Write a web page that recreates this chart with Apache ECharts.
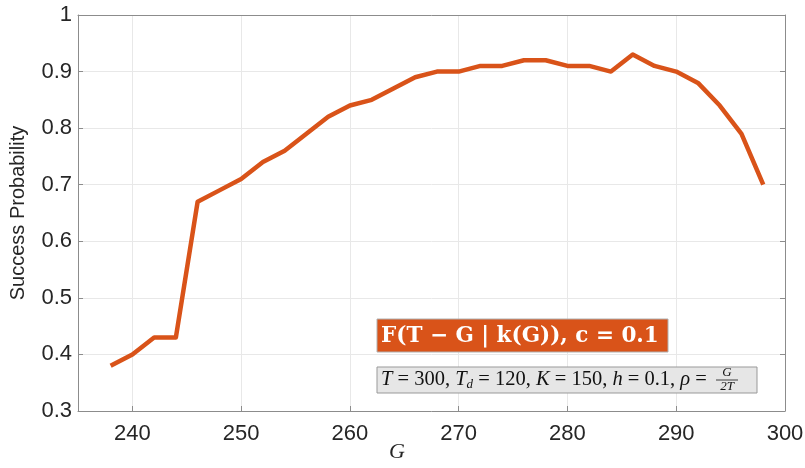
<!DOCTYPE html>
<html><head><meta charset="utf-8">
<script src="https://cdn.jsdelivr.net/npm/echarts@6/dist/echarts.min.js"></script>
<style>html,body{margin:0;padding:0;background:#fff}#c{width:805px;height:468px}</style>
</head><body><div id="c"></div>
<script>
const gValues = [238,240,242,244,246,248,250,252,254,256,258,260,262,264,266,268,270,272,274,276,278,280,282,284,286,288,290,292,294,296,298];
const successProb = [0.38,0.40,0.43,0.43,0.67,0.69,0.71,0.74,0.76,0.79,0.82,0.84,0.85,0.87,0.89,0.90,0.90,0.91,0.91,0.92,0.92,0.91,0.91,0.90,0.93,0.91,0.90,0.88,0.84,0.79,0.70];
const xTicks = [240,250,260,270,280,290,300];
const yTicks = [0.3,0.4,0.5,0.6,0.7,0.8,0.9,1];
const seriesName = 'F(T − G | k(G)), c = 0.1';
const xAxisName = 'G';

const chart = echarts.init(document.getElementById('c'));
const gridLeft = 78, gridTop = 15, gridRight = 805-785, gridBottom = 468-411;
const lineCol = '#8c8c8c';
const labelFont = 'Liberation Sans, Arial, sans-serif';
chart.setOption({
  animation:false,
  grid:{left:gridLeft,top:gridTop,right:gridRight,bottom:gridBottom,show:false,containLabel:false,outerBoundsMode:'none'},
  xAxis:[
    {type:'value',min:235,max:300,splitNumber:7,position:'bottom',
      axisLine:{show:true,lineStyle:{color:lineCol,width:1}},
      axisTick:{show:true,inside:true,length:5,lineStyle:{color:lineCol}},
      axisLabel:{color:'#262626',fontSize:22,fontFamily:labelFont,margin:12,
        formatter:v=>xTicks.includes(v)?String(v):''},
      splitLine:{show:true,lineStyle:{color:'#e8e8e8',width:1}}
    },
    {type:'value',min:235,max:300,splitNumber:7,position:'top',
      axisLine:{show:true,lineStyle:{color:lineCol,width:1}},
      axisTick:{show:false},axisLabel:{show:false},splitLine:{show:false}}
  ],
  yAxis:[
    {type:'value',min:0.3,max:1,interval:0.1,position:'left',
      axisLine:{show:true,lineStyle:{color:lineCol,width:1}},
      axisTick:{show:true,inside:true,length:5,lineStyle:{color:lineCol}},
      axisLabel:{color:'#262626',fontSize:22,fontFamily:labelFont,margin:6,
        formatter:v=>{const r=Math.round(v*10)/10;return r===1?'1':String(r);}},
      splitLine:{show:true,lineStyle:{color:'#e8e8e8',width:1}},
      name:'Success Probability',nameLocation:'middle',nameGap:50,nameRotate:90,
      nameTextStyle:{fontFamily:labelFont,fontSize:20,color:'#262626'}
    },
    {type:'value',min:0.3,max:1,interval:0.1,position:'right',
      axisLine:{show:true,lineStyle:{color:lineCol,width:1}},
      axisTick:{show:true,inside:true,length:5,lineStyle:{color:lineCol}},
      axisLabel:{show:false},splitLine:{show:false}}
  ],
  series:[{
    name:seriesName,type:'line',xAxisIndex:0,yAxisIndex:0,
    data:gValues.map((g,i)=>[g,successProb[i]]),
    showSymbol:false,lineStyle:{color:'#D95319',width:4.5,join:'round'},itemStyle:{color:'#D95319'}
  }],
  graphic:[
    {type:'text',x:397,y:452,style:{text:xAxisName,font:'italic 22px "Liberation Serif", serif',fill:'#262626',align:'center',verticalAlign:'middle'}},
    {type:'rect',z:100,shape:{x:377,y:319,width:291,height:33},style:{fill:'#D95319',stroke:'#b0b0b0',lineWidth:1}},
    {type:'text',z:101,x:381,y:336,style:{text:seriesName,fill:'#fff',font:'bold 21.5px "DejaVu Serif", serif',verticalAlign:'middle'}},
    {type:'rect',z:100,shape:{x:377,y:367,width:380,height:26},style:{fill:'#e6e6e6',stroke:'#999',lineWidth:1}},
    {type:'text',z:101,x:381,y:380,style:{
      text:'{i|T} = 300, {i|T}{s|d} = 120, {i|K} = 150, {i|h} = 0.1, {i|ρ} =',
      rich:{i:{fontStyle:'italic',fontSize:20.5,fontFamily:'Liberation Serif, serif',fill:'#111'},
            s:{fontStyle:'italic',fontSize:13,fontFamily:'Liberation Serif, serif',fill:'#111',padding:[9,0,0,0]}},
      font:'20.5px "Liberation Serif", serif',fill:'#111',verticalAlign:'middle'}},
    {type:'text',z:101,x:727,y:373,style:{text:'G',font:'italic 13px "Liberation Serif", serif',fill:'#111',align:'center',verticalAlign:'middle'}},
    {type:'line',z:101,shape:{x1:716,y1:380,x2:738,y2:380},style:{stroke:'#111',lineWidth:0.8}},
    {type:'text',z:101,x:727,y:387,style:{text:'2T',font:'italic 13px "Liberation Serif", serif',fill:'#111',align:'center',verticalAlign:'middle'}}
  ]
});
</script></body></html>
